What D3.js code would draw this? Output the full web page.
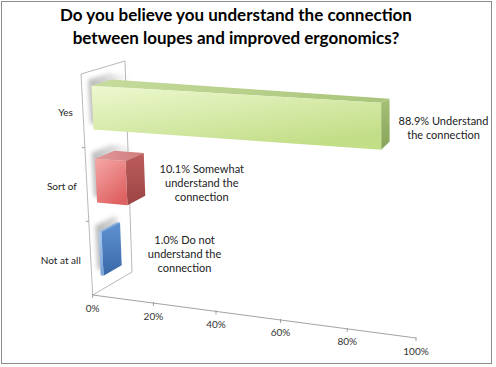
<!DOCTYPE html>
<html>
<head>
<meta charset="utf-8">
<script src="https://cdn.jsdelivr.net/npm/d3@7"></script>
<style>
body { margin: 0; background: #fff; }
text { font-family: Lato, "Open Sans", sans-serif; }
</style>
</head>
<body>
<svg width="496" height="367"></svg>
<script>
// chart data
var categories = ['Yes', 'Sort of', 'Not at all'];
var percents = [88.9, 10.1, 1.0];
var labelWords = [['Understand', 'the connection'], ['Somewhat', 'understand the', 'connection'], ['Do not', 'understand the', 'connection']];
var tickValues = [0, 20, 40, 60, 80, 100];
var titleLines = ['Do you believe you understand the connection', 'between loupes and improved ergonomics?'];

var colors = [
    {front: ['#eef8d0', '#c2de87'], top: ['#c6dc9c', '#a9c47a'], side: ['#a6c077', '#86a459']},
    {front: ['#f6a8a8', '#df6262'], top: ['#e29a9a', '#cf7b7b'], side: ['#bd5d5d', '#9c4343']},
    {front: ['#b3d0f2', '#7ba6dc'], top: ['#9dbde6', '#7fa4d6'], side: ['#5f92d2', '#3a68a8']}
];

// corners of the 3d plot box, u = value, v = down, w = depth
var box = {
    '000': [81, 74], '010': [92.7, 295], '001': [125, 61], '011': [132, 272],
    '100': [417, 90.5], '110': [416, 338], '101': [431.8, 85.5], '111': [431.8, 283]
};
var persp = -0.075;
function warp(u) { return (1 + persp) * u / (1 + persp * u); }
function project(u, v, w) {
    var s = warp(u), p = [0, 0];
    for (var a = 0; a < 2; a++) for (var b = 0; b < 2; b++) for (var c = 0; c < 2; c++) {
        var k = (a ? s : 1 - s) * (b ? v : 1 - v) * (c ? w : 1 - w);
        var q = box['' + a + b + c];
        p[0] += k * q[0]; p[1] += k * q[1];
    }
    return p;
}
function poly(pts) { return pts.map(p => p.join(',')).join(' '); }

var x = d3.scaleLinear().domain([0, 100]).range([0, 1]);
var y = d3.scaleBand().domain(categories).range([0, 1]).paddingInner(0.4).paddingOuter(0.2);
var w0 = 0.22, w1 = 0.68;

var svg = d3.select('svg');
var defs = svg.append('defs');
defs.append('filter').attr('id', 'blur').attr('x', '-20%').attr('y', '-20%').attr('width', '140%').attr('height', '140%')
    .append('feGaussianBlur').attr('stdDeviation', 2);

function grad(id, c, x2, y2) {
    var g = defs.append('linearGradient').attr('id', id)
        .attr('x1', 0).attr('y1', 0).attr('x2', x2).attr('y2', y2);
    g.append('stop').attr('offset', '0%').attr('stop-color', c[0]);
    g.append('stop').attr('offset', '100%').attr('stop-color', c[1]);
}
colors.forEach((c, i) => {
    grad('front' + i, c.front, 0.6, 1);
    grad('top' + i, c.top, 1, 0);
    grad('side' + i, c.side, 0, 1);
});

// border
svg.append('rect').attr('x', 1.5).attr('y', 1.5).attr('width', 490).attr('height', 362)
    .attr('fill', '#fff').attr('stroke', '#8c8c8c').attr('stroke-width', 1);

// title
svg.append('text').attr('x', 236).attr('y', 21).attr('text-anchor', 'middle')
    .style('font-size', '17px').style('font-weight', 'bold')
    .selectAll('tspan').data(titleLines).enter().append('tspan')
    .attr('x', 236).attr('dy', (d, i) => i ? 23 : 0).text(d => d);

// side wall
svg.append('polygon')
    .attr('points', poly([project(0, 0, 0), project(0, 0, 1), project(0, 1, 1), project(0, 1, 0)]))
    .attr('fill', '#fff').attr('stroke', '#a6a6a6').attr('stroke-width', 0.8);

// bars
var bars = svg.selectAll('.bar').data(percents).enter().append('g').attr('class', 'bar');
bars.each(function(d, i) {
    var g = d3.select(this);
    var u1 = x(d), v0 = y(categories[i]), v1 = v0 + y.bandwidth();
    var outline = [project(0, v1, w0), project(0, v0, w0), project(0, v0, w1), project(u1, v0, w1), project(u1, v1, w1), project(u1, v1, w0)];
    var sx = outline[0][0];
    var sg = defs.append('linearGradient').attr('id', 'shadow' + i).attr('gradientUnits', 'userSpaceOnUse')
        .attr('x1', sx - 4).attr('y1', 0).attr('x2', sx + 36).attr('y2', 0);
    sg.append('stop').attr('offset', '0%').attr('stop-color', '#8a8a8a').attr('stop-opacity', 0.6);
    sg.append('stop').attr('offset', '100%').attr('stop-color', '#8a8a8a').attr('stop-opacity', 0);
    g.append('polygon').attr('points', poly(outline.map(p => [p[0] - 3, p[1] - 6])))
        .attr('fill', 'url(#shadow' + i + ')').attr('filter', 'url(#blur)');
    g.append('polygon').attr('fill', 'url(#top' + i + ')')
        .attr('points', poly([project(0, v0, w0), project(u1, v0, w0), project(u1, v0, w1), project(0, v0, w1)]));
    g.append('polygon').attr('fill', 'url(#side' + i + ')')
        .attr('points', poly([project(u1, v0, w0), project(u1, v0, w1), project(u1, v1, w1), project(u1, v1, w0)]));
    g.append('polygon').attr('fill', 'url(#front' + i + ')')
        .attr('points', poly([project(0, v0, w0), project(u1, v0, w0), project(u1, v1, w0), project(0, v1, w0)]));
});

// value axis along the front of the floor
var a0 = project(0, 1, 0), a1 = project(1, 1, 0);
svg.append('line').attr('x1', a0[0]).attr('y1', a0[1]).attr('x2', a1[0]).attr('y2', a1[1])
    .attr('stroke', '#8c8c8c').attr('stroke-width', 0.8);
var ticks = svg.selectAll('.tick').data(tickValues).enter().append('g').attr('class', 'tick');
ticks.append('line')
    .attr('x1', d => project(x(d), 1, 0)[0]).attr('x2', d => project(x(d), 1, 0)[0])
    .attr('y1', d => project(x(d), 1, 0)[1] - 1).attr('y2', d => project(x(d), 1, 0)[1] + 3)
    .attr('stroke', '#8c8c8c').attr('stroke-width', 0.8);
ticks.append('text')
    .attr('x', d => project(x(d), 1, 0)[0]).attr('y', d => project(x(d), 1, 0)[1] + 16.5)
    .attr('text-anchor', 'middle').style('font-size', '10px').attr('fill', '#333')
    .text(d => d + '%');

// category axis on the front edge of the wall
var edges = [1, 2].map(k => y.step() * k);
svg.selectAll('.ctick').data(edges).enter().append('line')
    .attr('x1', d => project(0, d, 0)[0] - 3).attr('x2', d => project(0, d, 0)[0])
    .attr('y1', d => project(0, d, 0)[1]).attr('y2', d => project(0, d, 0)[1])
    .attr('stroke', '#8c8c8c').attr('stroke-width', 0.8);
svg.selectAll('.cat').data(categories).enter().append('text')
    .attr('x', d => project(0, y(d) + y.bandwidth() / 2, 0)[0] - 10)
    .attr('y', d => project(0, y(d) + y.bandwidth() / 2, 0)[1] + 5.5)
    .attr('text-anchor', 'end').style('font-size', '10px').attr('fill', '#222')
    .text(d => d);

// data labels
var fmt = d3.format('.1f');
var labelNudge = [0, 6, 18];
svg.selectAll('.lbl').data(percents).enter().append('text')
    .each(function(d, i) {
        var t = d3.select(this);
        var lines = labelWords[i].slice();
        lines[0] = fmt(d) + '% ' + lines[0];
        var v = y(categories[i]) + y.bandwidth() / 2;
        var end = project(x(d), v, w1);
        t.attr('text-anchor', 'middle').style('font-size', '11px').attr('fill', '#222');
        t.selectAll('tspan').data(lines).enter().append('tspan').text(s => s);
        var wmax = d3.max(t.selectAll('tspan').nodes(), n => n.getComputedTextLength());
        var cx = end[0] + 9 + wmax / 2 + labelNudge[i];
        var cy = end[1] + 12 - (lines.length - 1) * 14 / 2 + i;
        t.selectAll('tspan').attr('x', cx).attr('y', (s, k) => cy + k * 14);
    });
</script>
</body>
</html>
